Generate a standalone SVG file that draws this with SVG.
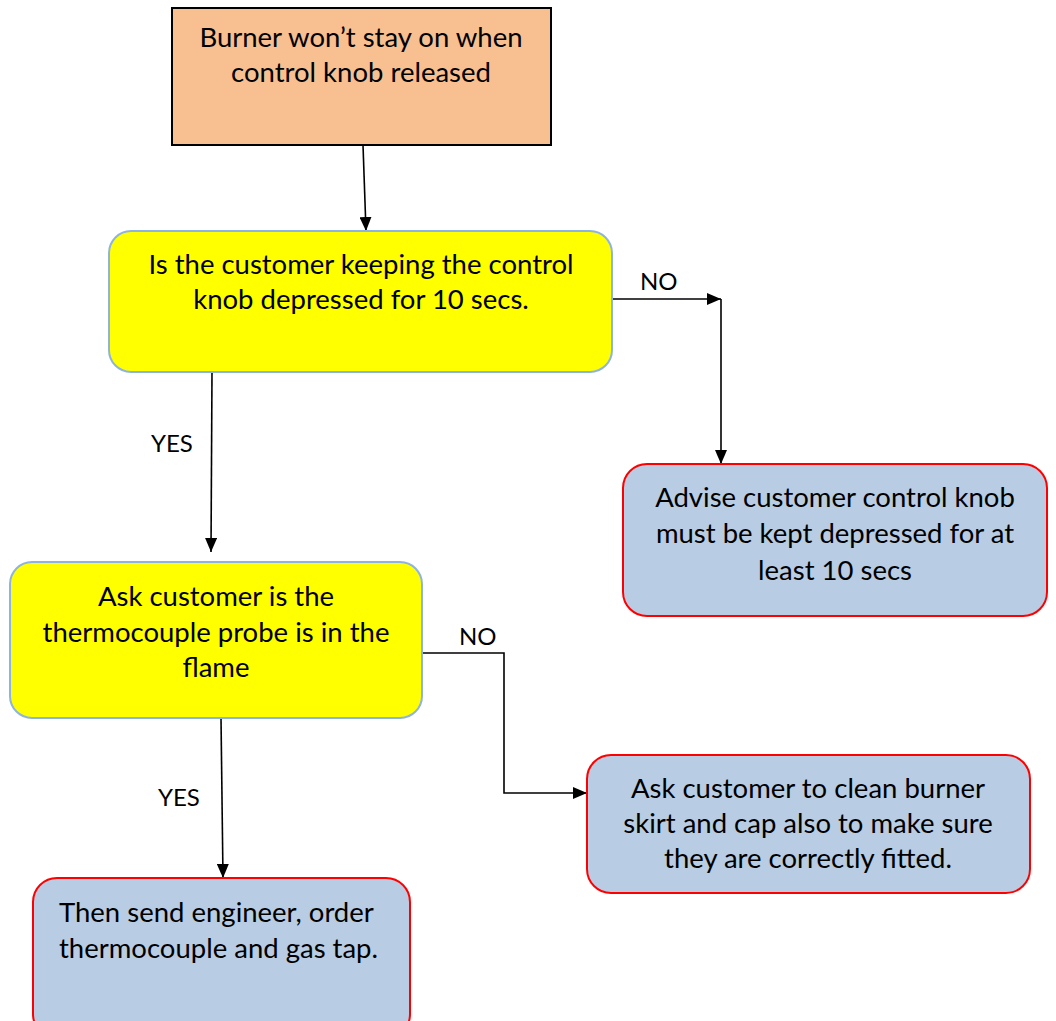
<svg xmlns="http://www.w3.org/2000/svg" width="1056" height="1021" viewBox="0 0 1056 1021">
<style>
text{font-family:Lato,"Open Sans","Liberation Sans",sans-serif;font-size:27.5px;fill:#000}
.c{text-anchor:middle}
.lbl{font-size:24px}
.start{fill:#F8BF90;stroke:#000;stroke-width:2}
.dec{fill:#FFFF00;stroke:#8DB3E2;stroke-width:2}
.act{fill:#B8CCE4;stroke:#FF0000;stroke-width:2}
.conn{fill:none;stroke:#000;stroke-width:1.6}
</style>
<defs>
<marker id="ah" markerWidth="14" markerHeight="12" refX="14" refY="6" orient="auto" markerUnits="userSpaceOnUse">
<path d="M0,0 L14,6 L0,12 Z" fill="#000"/>
</marker>
</defs>
<g id="connectors">
<path class="conn" d="M363,145 L366,231" marker-end="url(#ah)"/>
<path class="conn" d="M612,299 L721,299" marker-end="url(#ah)"/>
<path class="conn" d="M721,299 L721,464" marker-end="url(#ah)"/>
<path class="conn" d="M212,372 L211,552" marker-end="url(#ah)"/>
<path class="conn" d="M422,653 L504,653 L504,793 L587,793" marker-end="url(#ah)"/>
<path class="conn" d="M221,718 L223,878" marker-end="url(#ah)"/>
<text class="lbl" x="640" y="290">NO</text>
<text class="lbl" x="151" y="452">YES</text>
<text class="lbl" x="459" y="645">NO</text>
<text class="lbl" x="158" y="806">YES</text>
</g>
<g id="n1">
<rect class="start" x="172" y="8" width="379" height="137"/>
<text class="c" x="361" y="47">Burner won’t stay on when</text>
<text class="c" x="361" y="82">control knob released</text>
</g>
<g id="n2">
<rect class="dec" x="109" y="231" width="503" height="141" rx="22"/>
<text class="c" x="361" y="274">Is the customer keeping the control</text>
<text class="c" x="361" y="309">knob depressed for 10 secs.</text>
</g>
<g id="n3">
<rect class="dec" x="10" y="562" width="412" height="156" rx="22"/>
<text class="c" x="216" y="606">Ask customer is the</text>
<text class="c" x="216" y="642">thermocouple probe is in the</text>
<text class="c" x="216" y="677">flame</text>
</g>
<g id="n4">
<rect class="act" x="623" y="464" width="424" height="152" rx="24"/>
<text class="c" x="835" y="507">Advise customer control knob</text>
<text class="c" x="835" y="543">must be kept depressed for at</text>
<text class="c" x="835" y="580">least 10 secs</text>
</g>
<g id="n5">
<rect class="act" x="587" y="755" width="443" height="138" rx="24"/>
<text class="c" x="808" y="798">Ask customer to clean burner</text>
<text class="c" x="808" y="833">skirt and cap also to make sure</text>
<text class="c" x="808" y="868">they are correctly fitted.</text>
</g>
<g id="n6">
<rect class="act" x="33" y="878" width="377" height="160" rx="24"/>
<text x="59" y="922">Then send engineer, order</text>
<text x="59" y="958">thermocouple and gas tap.</text>
</g>
</svg>
